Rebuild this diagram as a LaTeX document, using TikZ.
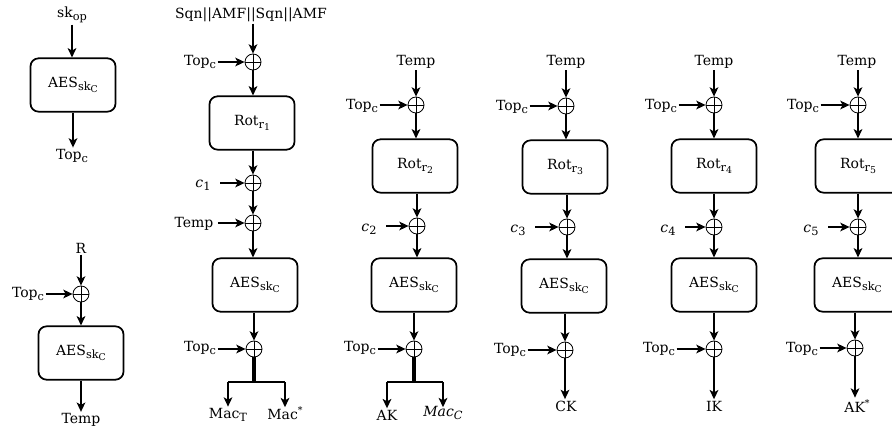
\documentclass[tikz,border=0pt]{standalone}
\usepackage{fontspec}
\setmainfont{DejaVu Serif}
\usetikzlibrary{arrows.meta}
\newcommand\mysub[1]{\raisebox{-0.45ex}{\fontsize{8.5}{9}\selectfont #1}}
\newcommand\mysubb[1]{\raisebox{-0.4ex}{\fontsize{7}{8}\selectfont #1}}
\newcommand\mysup[1]{\raisebox{0.9ex}{\fontsize{7}{8}\selectfont #1}}
\begin{document}
\begin{tikzpicture}[x=0.75pt,y=-0.75pt,
  lbl/.style={inner sep=1pt,font=\fontsize{10.5}{12}\selectfont},
  blk/.style={draw,rounded corners=6pt,line width=1.3pt,minimum width=63.75pt,minimum height=40pt,inner sep=0pt,font=\fontsize{10.5}{12}\selectfont},
  xo/.style={circle,draw,line width=0.6pt,minimum size=12pt,inner sep=0pt,
    path picture={\draw[line width=0.6pt] (path picture bounding box.north) -- (path picture bounding box.south)
      (path picture bounding box.west) -- (path picture bounding box.east);}},
  arr/.style={line width=1.3pt,-{Stealth[length=7pt,width=6.5pt,inset=1.8pt]}},
  thk/.style={line width=2.4pt},
  ln/.style={line width=1.3pt}]
\useasboundingbox (0,0) rectangle (892,431);

% ---- column 0 top
\node[lbl] (sk) at (72,15) {sk\mysub{op}};
\node[blk] (A0) at (73,85) {AES\mysub{sk\mysubb{C}}};
\node[lbl] (T0) at (72,156) {Top\mysub{c}};
\draw[arr] (sk.south) -- (sk.south |- A0.north);
\draw[arr] (A0.south) -- (A0.south |- T0.north);

% ---- column 0 bottom
\node[lbl] (R) at (81,248) {R};
\node[xo] (X0) at (81,294) {};
\node[lbl] (T0b) at (28,294) {Top\mysub{c}};
\node[blk] (A0b) at (81,353) {AES\mysub{sk\mysubb{C}}};
\node[lbl] (Tm0) at (81,420) {Temp};
\draw[arr] (R.south) -- (X0.north);
\draw[arr] (T0b.east |- X0.west) -- (X0.west);
\draw[arr] (X0.south) -- (A0b.north);
\draw[arr] (A0b.south) -- (Tm0.north);

% ---- column 1
\node[lbl] (S1) at (251,15) {Sqn||AMF||Sqn||AMF};
\node[xo] (X1) at (253,62) {};
\node[lbl] (T1) at (200,62) {Top\mysub{c}};
\node[blk] (R1) at (252,123) {Rot\mysub{r\mysubb{1}}};
\node[xo] (X1b) at (253,183) {};
\node[lbl] (c1) at (203,185) {\textit{c}\mysub{1}};
\node[xo] (X1c) at (253,223) {};
\node[lbl] (Tm1) at (194,224) {Temp};
\node[blk] (A1) at (255,285) {AES\mysub{sk\mysubb{C}}};
\node[xo] (X1d) at (254,349) {};
\node[lbl] (T1d) at (200,348) {Top\mysub{c}};
\coordinate (b1) at (254,382);
\node[lbl] (M1) at (228,415) {Mac\mysub{T}};
\node[lbl] (M2) at (285,413) {Mac\mysup{*}};
\draw[arr] (X1 |- S1.south) -- (X1.north);
\draw[arr] (T1.east |- X1.west) -- (X1.west);
\draw[arr] (X1.south) -- (X1.south |- R1.north);
\draw[arr] (X1b |- R1.south) -- (X1b.north);
\draw[arr] (c1.east |- X1b.west) ++(8,0) -- (X1b.west);
\draw[arr] (X1b.south) -- (X1c.north);
\draw[arr] (Tm1.east |- X1c.west) ++(3,0) -- (X1c.west);
\draw[arr] (X1c.south) -- (X1c.south |- A1.north);
\draw[arr] (X1d |- A1.south) -- (X1d.north);
\draw[arr] (T1d.east |- X1d.west) -- (X1d.west);
\draw[thk] (X1d.south) -- (b1);
\draw[ln] (M1 |- b1) -- (M2 |- b1);
\draw[arr] (M1 |- b1) -- (M1.north);
\draw[arr] (M2 |- b1) -- ([yshift=-2pt]M2.north);

% ---- column 2
\node[lbl] (Tp2) at (416,62) {Temp};
\node[xo] (X2) at (416,105) {};
\node[lbl] (T2) at (362,106) {Top\mysub{c}};
\node[blk] (R2) at (415,166) {Rot\mysub{r\mysubb{2}}};
\node[xo] (X2b) at (417,226) {};
\node[lbl] (c2) at (369,229) {\textit{c}\mysub{2}};
\node[blk] (A2) at (414,285) {AES\mysub{sk\mysubb{C}}};
\node[xo] (X2c) at (414,349) {};
\node[lbl] (T2c) at (360,348) {Top\mysub{c}};
\coordinate (b2) at (414,382);
\node[lbl] (AK) at (387,415) {AK};
\node[lbl] (MC) at (443,413) {\textit{Mac}\mysub{\textit{C}}};
\draw[arr] (X2 |- Tp2.south) -- (X2.north);
\draw[arr] (T2.east |- X2.west) -- (X2.west);
\draw[arr] (X2.south) -- (X2.south |- R2.north);
\draw[arr] (X2b |- R2.south) -- (X2b.north);
\draw[arr] (c2.east |- X2b.west) ++(8,0) -- (X2b.west);
\draw[arr] (X2b.south) -- (X2b.south |- A2.north);
\draw[arr] (X2c |- A2.south) -- (X2c.north);
\draw[arr] (T2c.east |- X2c.west) -- (X2c.west);
\draw[thk] (X2c.south) -- (b2);
\draw[ln] (AK |- b2) -- (MC |- b2);
\draw[arr] (AK |- b2) -- (AK.north);
\draw[arr] (MC |- b2) -- ([yshift=-2pt]MC.north);

% ---- column 3
\node[lbl] (Tp3) at (566,62) {Temp};
\node[xo] (X3) at (566,106) {};
\node[lbl] (T3) at (512,107) {Top\mysub{c}};
\node[blk] (R3) at (565,167) {Rot\mysub{r\mysubb{3}}};
\node[xo] (X3b) at (567,227) {};
\node[lbl] (c3) at (518,230) {\textit{c}\mysub{3}};
\node[blk] (A3) at (564,286) {AES\mysub{sk\mysubb{C}}};
\node[xo] (X3c) at (565,350) {};
\node[lbl] (T3c) at (510,350) {Top\mysub{c}};
\node[lbl] (CK) at (566,406) {CK};
\draw[arr] (X3 |- Tp3.south) -- (X3.north);
\draw[arr] (T3.east |- X3.west) -- (X3.west);
\draw[arr] (X3.south) -- (X3.south |- R3.north);
\draw[arr] (X3b |- R3.south) -- (X3b.north);
\draw[arr] (c3.east |- X3b.west) ++(8,0) -- (X3b.west);
\draw[arr] (X3b.south) -- (X3b.south |- A3.north);
\draw[arr] (X3c |- A3.south) -- (X3c.north);
\draw[arr] (T3c.east |- X3c.west) -- (X3c.west);
\draw[arr] (X3c.south) -- (X3c.south |- CK.north);

% ---- column 4
\node[lbl] (Tp4) at (714,62) {Temp};
\node[xo] (X4) at (714,105) {};
\node[lbl] (T4) at (661,106) {Top\mysub{c}};
\node[blk] (R4) at (714,166) {Rot\mysub{r\mysubb{4}}};
\node[xo] (X4b) at (714,227) {};
\node[lbl] (c4) at (668,230) {\textit{c}\mysub{4}};
\node[blk] (A4) at (714,285) {AES\mysub{sk\mysubb{C}}};
\node[xo] (X4c) at (714,349) {};
\node[lbl] (T4c) at (659,349) {Top\mysub{c}};
\node[lbl] (IK) at (714,406) {IK};
\draw[arr] (X4 |- Tp4.south) -- (X4.north);
\draw[arr] (T4.east |- X4.west) -- (X4.west);
\draw[arr] (X4.south) -- (X4.south |- R4.north);
\draw[arr] (X4b |- R4.south) -- (X4b.north);
\draw[arr] (c4.east |- X4b.west) ++(8,0) -- (X4b.west);
\draw[arr] (X4b.south) -- (X4b.south |- A4.north);
\draw[arr] (X4c |- A4.south) -- (X4c.north);
\draw[arr] (T4c.east |- X4c.west) -- (X4c.west);
\draw[arr] (X4c.south) -- (X4c.south |- IK.north);

% ---- column 5
\node[lbl] (Tp5) at (857,62) {Temp};
\node[xo] (X5) at (858,105) {};
\node[lbl] (T5) at (803,106) {Top\mysub{c}};
\node[blk] (R5) at (858,166) {Rot\mysub{r\mysubb{5}}};
\node[xo] (X5b) at (858,227) {};
\node[lbl] (c5) at (811,230) {\textit{c}\mysub{5}};
\node[blk] (A5) at (857,285) {AES\mysub{sk\mysubb{C}}};
\node[xo] (X5c) at (855,348) {};
\node[lbl] (T5c) at (802,349) {Top\mysub{c}};
\node[lbl] (AK5) at (857,406) {AK\mysup{*}};
\draw[arr] (X5 |- Tp5.south) -- (X5.north);
\draw[arr] (T5.east |- X5.west) -- (X5.west);
\draw[arr] (X5.south) -- (X5.south |- R5.north);
\draw[arr] (X5b |- R5.south) -- (X5b.north);
\draw[arr] (c5.east |- X5b.west) ++(8,0) -- (X5b.west);
\draw[arr] (X5b.south) -- (X5b.south |- A5.north);
\draw[arr] (X5c |- A5.south) -- (X5c.north);
\draw[arr] (T5c.east |- X5c.west) -- (X5c.west);
\draw[arr] (X5c.south) -- (X5c.south |- AK5.north);
\end{tikzpicture}
\end{document}
